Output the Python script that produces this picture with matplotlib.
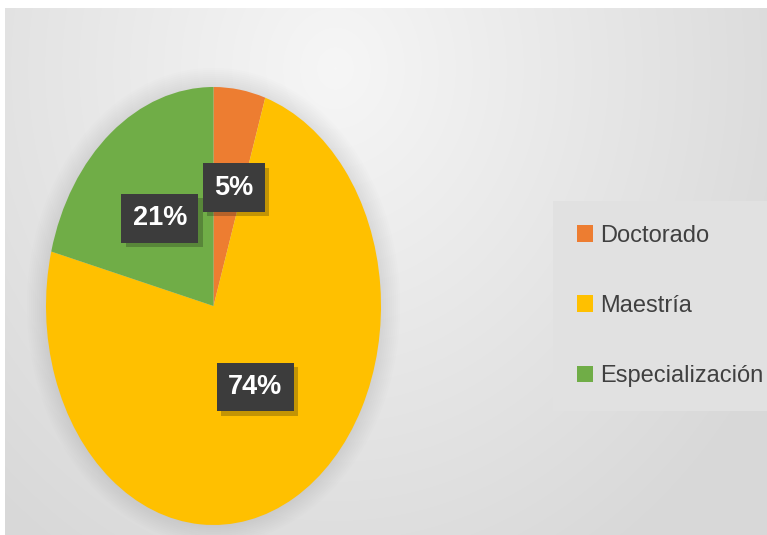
import numpy as np
import matplotlib.pyplot as plt
import matplotlib.patheffects as pe
from matplotlib.patches import Ellipse

labels = ['Doctorado', 'Maestría', 'Especialización']
values = [5, 74, 21]
colors = ['#ED7D31', '#FFC000', '#70AD47']
narrow = ['Liberation Sans Narrow', 'Liberation Sans', 'DejaVu Sans']

W, H = 767, 535
fig = plt.figure(figsize=(W / 100, H / 100), dpi=100)
fig.patch.set_facecolor('white')

# background panel with soft radial gradient
bg = fig.add_axes([0, 0, 1, 1])
bg.set_xlim(0, W)
bg.set_ylim(H, 0)
bg.axis('off')
yy, xx = np.mgrid[0:H - 8, 0:W - 5]
d = np.sqrt(((xx - 330) / 520.0) ** 2 + ((yy - 60) / 600.0) ** 2)
shade = np.clip(0.965 - 0.12 * d, 0.85, 0.97)
bg.imshow(np.dstack([shade] * 3), extent=[5, W, H, 8], aspect='auto', zorder=0)

# soft halo behind the pie
cx, cy, rx, ry = 213.5, 306, 167.5, 219
for k in range(10):
    bg.add_patch(Ellipse((cx, cy), 2 * rx + 2 + 4 * k, 2 * ry + 2 + 4 * k,
                         color='#a0a0a0', alpha=0.025, lw=0, zorder=1))

ax = fig.add_axes([46 / W, 10 / H, 335 / W, 438 / H])
wedges, _, autotexts = ax.pie(values, colors=colors, startangle=90, counterclock=False,
                              autopct='%1.0f%%', pctdistance=0.54,
                              wedgeprops=dict(linewidth=0))
ax.set_aspect('auto')
ax.set_xlim(-1, 1)
ax.set_ylim(-1, 1)

for t in autotexts:
    t.set_color('white')
    t.set_fontsize(19.5)
    t.set_fontweight('bold')
    t.set_family(narrow)
    t.set_bbox(dict(boxstyle='square,pad=0.42', facecolor='#3c3c3c', edgecolor='none'))
    t.get_bbox_patch().set_path_effects([pe.SimplePatchShadow(offset=(3, -3), alpha=0.25),
                                         pe.Normal()])
autotexts[0].set_position((0.12, 0.54))
autotexts[1].set_position((0.25, -0.37))
autotexts[2].set_position((-0.32, 0.40))

leg = fig.legend(wedges, labels, loc='center left',
                 frameon=True, fancybox=False, facecolor='#e1e1e1', edgecolor='none',
                 framealpha=1, prop={'family': narrow, 'size': 17},
                 labelspacing=2.05, handlelength=0.7, handleheight=0.7,
                 handletextpad=0.3, borderpad=1.0, borderaxespad=0)
for t in leg.get_texts():
    t.set_color('#404040')
leg.set_bbox_to_anchor((553 / W, 1 - 306 / H), transform=fig.transFigure)

fig.savefig('out.png', dpi=100)
